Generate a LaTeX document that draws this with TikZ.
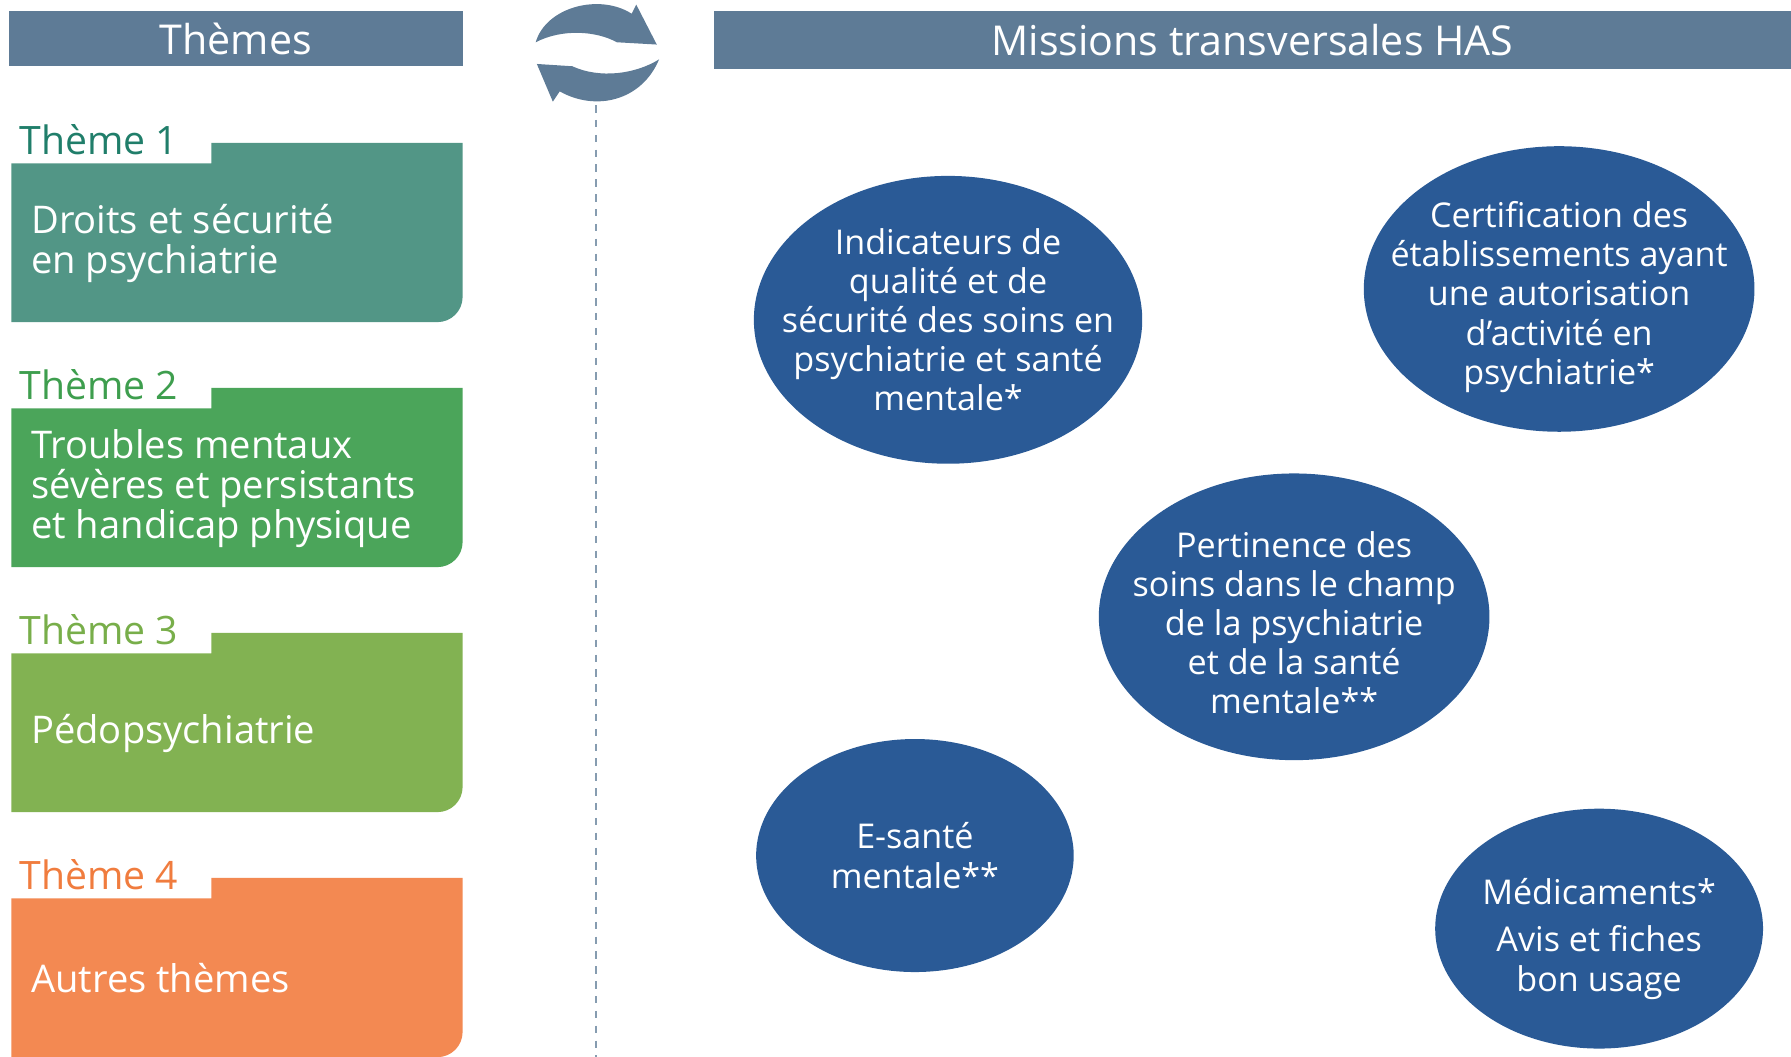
\documentclass[tikz,border=0pt]{standalone}
\usepackage{fontspec}
\setmainfont{Open Sans}
\usepackage{xcolor}
\usepackage{tikz}
\usetikzlibrary{shapes.geometric}
\definecolor{hasslate}{RGB}{94,123,150}
\definecolor{hasblue}{RGB}{42,90,150}
\definecolor{themeone}{RGB}{82,150,134}
\definecolor{themetwo}{RGB}{75,165,90}
\definecolor{themethree}{RGB}{130,178,82}
\definecolor{themefour}{RGB}{243,137,82}
\definecolor{labelone}{RGB}{32,126,106}
\definecolor{labeltwo}{RGB}{62,158,78}
\definecolor{labelthree}{RGB}{120,174,74}
\definecolor{labelfour}{RGB}{240,124,62}
\tikzset{ head_bar/.style = {rectangle, fill=hasslate, text=white, inner sep=0pt, font=\fontsize{20.5}{24}\selectfont} }
\tikzset{ theme_label/.style = {anchor=base west, inner sep=0pt, font=\fontsize{19.5}{22}\selectfont} }
\tikzset{ theme_text/.style = {anchor=west, align=left, inner sep=0pt, text=white, font=\fontsize{19}{20}\selectfont} }
\tikzset{ mission/.style = {ellipse, fill=hasblue, inner sep=0pt} }
\tikzset{ mission_text/.style = {align=center, inner sep=0pt, text=white, font=\fontsize{17}{19.5}\selectfont} }
\tikzset{ sep_line/.style = {draw=hasslate!75, line width=0.35mm, dash pattern=on 1.3mm off 1.3mm} }

\begin{document}
\begin{tikzpicture}[x=0.2mm, y=-0.2mm]
    \useasboundingbox (0,0) rectangle (1568,925);
    % bandeaux
    \node[head_bar, minimum width=79.4mm, minimum height=9.6mm] (themes) at (206.5,34) {Thèmes};
    \node[head_bar, minimum width=188.6mm, minimum height=10mm] (missions) at (1096.5,35) {Missions transversales HAS};
    % fleches
    \fill[hasslate] (469,37) .. controls (478,6) and (525,-6) .. (553,12) -- (557,4) -- (575,39) -- (540,37) .. controls (522,27) and (492,25) .. (469,37) -- cycle;
    \fill[hasslate] (577,52) .. controls (562,88) and (522,98) .. (490,80) -- (484,89) -- (470,56) -- (501,58) .. controls (525,69) and (556,65) .. (577,52) -- cycle;
    \coordinate (sep_top) at (522,92);
    \coordinate (sep_bot) at (522,925);
    \draw[sep_line] (sep_top) -- (sep_bot);
    % themes
    \foreach \k/\col/\lcol/\txt in {1/themeone/labelone/{Droits et sécurité\\en psychiatrie},
                                   2/themetwo/labeltwo/{Troubles mentaux\\sévères et persistants\\et handicap physique},
                                   3/themethree/labelthree/{Pédopsychiatrie},
                                   4/themefour/labelfour/{Autres thèmes}} {
        \pgfmathsetmacro{\yt}{125+214.5*(\k-1)}
        \fill[\col] (10,\yt+18) -- (185,\yt+18) -- (185,\yt) -- (405,\yt) [rounded corners=4.4mm] -- (405,\yt+157) [sharp corners] -- (10,\yt+157) -- cycle;
        \node[theme_label, text=\lcol] (lbl\k) at (17,\yt+10) {Thème \k};
        \node[theme_text] (theme\k) at (27,\yt+88) {\txt};
    }
    % missions
    \node[mission, minimum width=68mm, minimum height=50.4mm] (ind) at (830,280) {};
    \node[mission, minimum width=68.4mm, minimum height=50mm] (cert) at (1365,253) {};
    \node[mission, minimum width=68.4mm, minimum height=50.2mm] (pert) at (1133,540) {};
    \node[mission, minimum width=55.6mm, minimum height=40.8mm] (esante) at (801,749) {};
    \node[mission, minimum width=57.4mm, minimum height=42mm] (medic) at (1400,813) {};
    \node[mission_text] (ind_txt) at (ind) {Indicateurs de\\qualité et de\\sécurité des soins en\\psychiatrie et santé\\mentale*};
    \node[mission_text, yshift=-1.4mm] (cert_txt) at (cert) {Certification des\\établissements ayant\\une autorisation\\d’activité en\\psychiatrie*};
    \node[mission_text, yshift=-1mm] (pert_txt) at (pert) {Pertinence des\\soins dans le champ\\de la psychiatrie\\et de la santé\\mentale**};
    \node[mission_text] (esante_txt) at (esante) {E-santé\\mentale**};
    \node[mission_text, yshift=-1.8mm] (medic_txt) at (medic) {Médicaments*\\[4pt]Avis et fiches\\bon usage};
\end{tikzpicture}
\end{document}
